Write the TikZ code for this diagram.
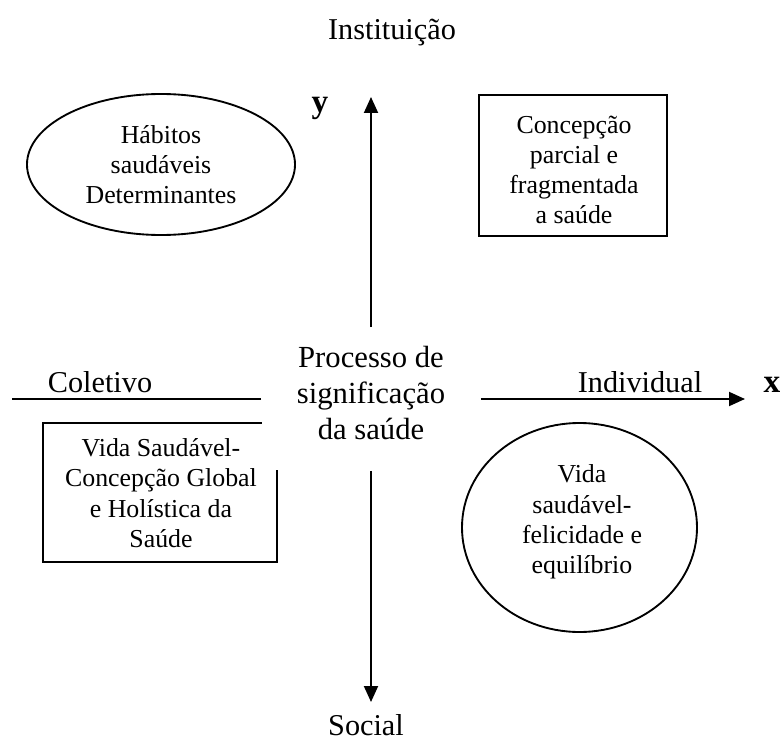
\documentclass[tikz,border=0pt]{standalone}
\usepackage{fontspec}
\setmainfont{Liberation Serif}
\usetikzlibrary{arrows.meta,shapes.geometric}
\begin{document}
\begin{tikzpicture}[x=0.75pt,y=-0.75pt,
  line width=1.4pt,
  boxtext/.style={font=\fontsize{19.4}{22.7}\selectfont, align=center, inner sep=0pt},
  axislabel/.style={font=\fontsize{22.7}{27}\selectfont, anchor=base, inner sep=0pt},
  axisname/.style={font=\fontsize{25}{28}\selectfont\bfseries, anchor=base, inner sep=0pt},
  axisarrow/.style={-{Triangle[length=12pt,width=10.5pt]}},
  framebox/.style={draw, rectangle, inner sep=0pt},
  roundbox/.style={draw, ellipse, inner sep=0pt, boxtext}
]
\useasboundingbox (0,0) rectangle (782,742);

% left box (partly hidden behind the centre)
\node[framebox, minimum width=175.5pt, minimum height=104.25pt] (lbox) at (160,492.5) {};
\node[boxtext] (ltext) at (161,493) {Vida Saudável-\\Concepção Global\\e Holística da\\Saúde};

% centre
\node[fill=white, minimum width=163.5pt, minimum height=106.5pt, inner sep=0pt] (hub) at (371,399) {};
\node[font=\fontsize{23}{27}\selectfont, align=center, inner sep=0pt] (htext) at (371,393) {Processo de\\significação\\da saúde};

% top-left ellipse
\node[roundbox, minimum width=201pt, minimum height=105.75pt] (hab) at (161,164.5) {Hábitos\\saudáveis\\Determinantes};

% top-right box
\node[framebox, minimum width=141pt, minimum height=105.75pt] (tbox) at (573,165.5) {};
\node[boxtext] (ttext) at (574,170) {Concepção\\parcial e\\fragmentada\\a saúde};

% bottom-right circle
\node[roundbox, minimum width=176.25pt, minimum height=156.75pt] (vida) at (579.5,527.5) {};
\node[boxtext] (vtext) at (582,522) {Vida\\saudável-\\felicidade e\\equilíbrio};

% axes
\coordinate (lend) at (12,399);
\coordinate (rend) at (745,399);
\coordinate (tend) at (371,97);
\coordinate (bend) at (371,702);
\draw (hub.west) -- (lend);
\draw[axisarrow] (hub.east) -- (rend);
\draw[axisarrow] (hub.north) -- (tend);
\draw[axisarrow] (hub.south) -- (bend);

% labels
\node[axislabel] (inst) at (392,40) {Instituição};
\node[axislabel] (soc) at (366,735) {Social};
\node[axislabel] (col) at (100,392) {Coletivo};
\node[axislabel] (ind) at (640,392) {Individual};
\node[axisname] (ylab) at (320,113) {y};
\node[axisname] (xlab) at (772,392) {x};
\end{tikzpicture}
\end{document}
